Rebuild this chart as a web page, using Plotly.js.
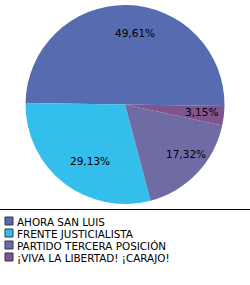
<!DOCTYPE html>
<html>
<head>
<meta charset="utf-8">
<script src="https://cdn.plot.ly/plotly-3.0.1.min.js"></script>
<style>html,body{margin:0;padding:0;background:#fff;}#chart{width:250px;height:285px;}</style>
</head>
<body>
<div id="chart"></div>
<script>
var categories = ["AHORA SAN LUIS", "FRENTE JUSTICIALISTA", "PARTIDO TERCERA POSICIÓN", "¡VIVA LA LIBERTAD! ¡CARAJO!"];
var values = [49.61, 29.13, 17.32, 3.15];
var colors = ["#576CB0", "#33BEEB", "#6F6CA5", "#80548C"];
var valueLabels = values.map(function (v) { return v.toFixed(2).replace('.', ',') + '%'; });

var W = 250, H = 285;
function px(x) { return x / W; }
function py(y) { return 1 - y / H; }

// pie geometry (pixels)
var pieLeft = 25, pieRight = 225, pieTop = 5, pieBottom = 204;
var rotation = -89.2; // clock degrees, boundary between first and second slice

var trace = {
  type: 'pie',
  values: values,
  labels: categories,
  marker: { colors: colors, line: { width: 0 } },
  sort: false,
  direction: 'counterclockwise',
  rotation: rotation,
  textinfo: 'none',
  hoverinfo: 'none',
  showlegend: false,
  domain: { x: [px(pieLeft), px(pieRight)], y: [py(pieBottom), py(pieTop)] }
};

// slice labels placed from the data (mid-angle of each slice)
var cx = (pieLeft + pieRight) / 2, cy = (pieTop + pieBottom) / 2;
var R = Math.min(pieRight - pieLeft, pieBottom - pieTop) / 2;
var total = values.reduce(function (a, b) { return a + b; }, 0);
var spans = values.map(function (v) { return v / total * 360; });
var boundary = 90 - rotation; // math angle (ccw from east)
var labelRadius = [0.72, 0.72, 0.72, 0.68];
var labelDx = 9;
var annotations = [];
var acc = boundary;
spans.forEach(function (s, i) {
  var mid;
  if (i === 0) { mid = boundary - s / 2; }
  else { mid = acc + s / 2; acc += s; }
  var a = mid * Math.PI / 180;
  var x = cx + labelRadius[i] * R * Math.cos(a);
  var y = cy - labelRadius[i] * R * Math.sin(a);
  annotations.push({
    xref: 'paper', yref: 'paper', x: px(x), y: py(y), xshift: labelDx,
    xanchor: 'center', yanchor: 'middle', showarrow: false,
    text: valueLabels[i], font: { family: 'DejaVu Sans', size: 10.5, color: '#000' }
  });
});

var shapes = [{
  type: 'line', xref: 'paper', yref: 'paper',
  x0: 0, x1: 1, y0: py(209.5), y1: py(209.5),
  line: { color: '#000', width: 1 }
}];
var rowTop = 217, rowStep = 12, box = 8;
categories.forEach(function (c, i) {
  var top = rowTop + i * rowStep;
  shapes.push({
    type: 'rect', xref: 'paper', yref: 'paper',
    x0: px(5), x1: px(5 + box), y0: py(top + box), y1: py(top),
    fillcolor: colors[i], line: { color: '#333344', width: 1 }
  });
  annotations.push({
    xref: 'paper', yref: 'paper', x: px(16), y: py(top + box / 2 + 0.5),
    xanchor: 'left', yanchor: 'middle', showarrow: false, borderpad: 0,
    text: c, font: { family: 'DejaVu Sans', size: 10.4, color: '#000' }
  });
});

var layout = {
  width: W, height: H,
  margin: { l: 0, r: 0, t: 0, b: 0 },
  paper_bgcolor: '#fff', plot_bgcolor: '#fff',
  showlegend: false,
  shapes: shapes,
  annotations: annotations
};

Plotly.newPlot('chart', [trace], layout, { staticPlot: true, displayModeBar: false });
</script>
</body>
</html>
